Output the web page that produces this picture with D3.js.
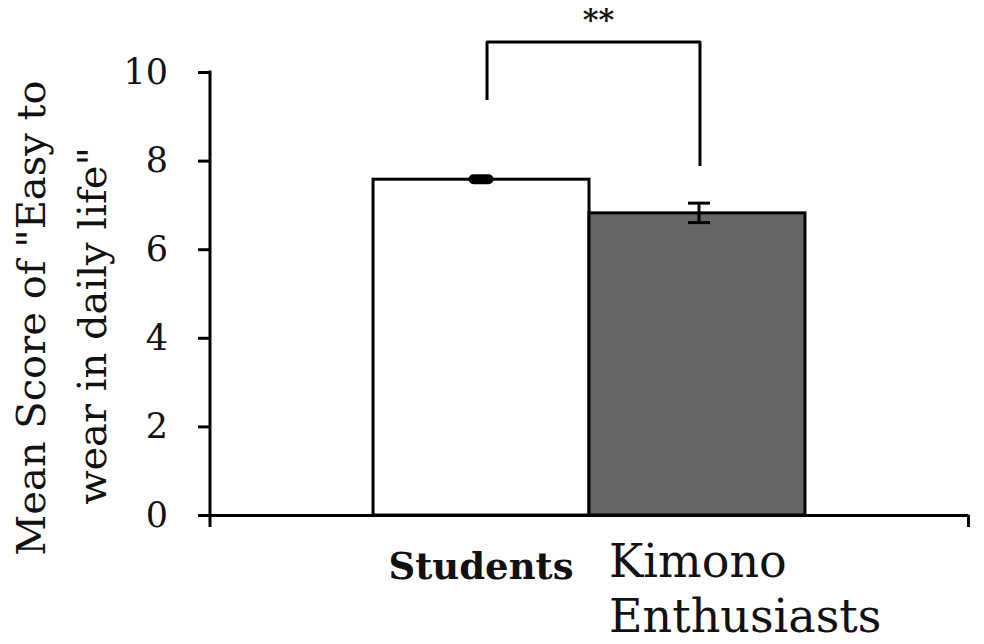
<!DOCTYPE html>
<html><head><meta charset="utf-8">
<script src="https://cdn.jsdelivr.net/npm/d3@7"></script>
<style>
html,body{margin:0;padding:0;background:#fff;}
svg{display:block;}
text{font-family:"DejaVu Serif","Liberation Serif",serif;fill:#111;}
</style></head>
<body>
<svg id="chart" width="984" height="644"></svg>
<script>
// ---- data ----
const groups = ["Students", "Kimono Enthusiasts"];
const means = [7.58, 6.82];
const errors = [0.03, 0.22];
const fills = ["#ffffff", "#666666"];
const yTicks = [0, 2, 4, 6, 8, 10];
const yTitleLines = ["Mean Score of \"Easy to", "wear in daily life\""];
const sigLabel = "**";
const bracketLevels = [9.37, 10.68, 7.88]; // left foot, top, right foot

(function () {
const svg = d3.select("#chart");
const pLeft = 210, pRight = 968, pTop = 72, pBottom = 515;

const y = d3.scaleLinear().domain([0, 10]).range([pBottom, pTop]);
const x = d3.scaleBand().domain(groups).range([pLeft, pRight]).paddingInner(0).paddingOuter(0.755);
const bw = x.bandwidth();

// bars
svg.selectAll("rect.bar").data(groups).enter().append("rect")
  .attr("class", "bar")
  .attr("x", d => x(d))
  .attr("y", (d, i) => y(means[i]))
  .attr("width", bw)
  .attr("height", (d, i) => y(0) - y(means[i]))
  .attr("fill", (d, i) => fills[i])
  .attr("stroke", "#000").attr("stroke-width", 3);

// error bars
const cap = 11;
groups.forEach((g, i) => {
  const cx = x(g) + bw / 2 + (i === 1 ? 2 : 0);
  const eg = svg.append("g").attr("stroke", "#000").attr("stroke-width", 3);
  eg.append("line").attr("x1", cx).attr("x2", cx).attr("y1", y(means[i] - errors[i])).attr("y2", y(means[i] + errors[i]));
  eg.append("line").attr("x1", cx - cap).attr("x2", cx + cap).attr("y1", y(means[i] + errors[i])).attr("y2", y(means[i] + errors[i]));
  eg.append("line").attr("x1", cx - cap).attr("x2", cx + cap).attr("y1", y(means[i] - errors[i])).attr("y2", y(means[i] - errors[i]));
  if (i === 0) {
    eg.append("rect").attr("x", cx - 11).attr("y", y(means[i]) - 3.5).attr("width", 22).attr("height", 7).attr("rx", 3.5).attr("fill", "#000");
  }
});

// y axis
const yAxis = d3.axisLeft(y).tickValues(yTicks).tickSize(12).tickPadding(30).tickFormat(d3.format("d"));
const yg = svg.append("g").attr("transform", `translate(${pLeft},0)`).call(yAxis);
yg.select(".domain").remove();
yg.selectAll(".tick line").attr("stroke", "#000").attr("stroke-width", 3);
yg.selectAll(".tick text").attr("font-size", 35).attr("font-family", "DejaVu Serif").attr("fill", "#111");
svg.append("line").attr("x1", pLeft).attr("x2", pLeft).attr("y1", y(10) - 1.5).attr("y2", y(0) + 12)
  .attr("stroke", "#000").attr("stroke-width", 3);

// x axis
const xLin = d3.scaleLinear().domain([0, 1]).range([pLeft, pRight]);
const xAxis = d3.axisBottom(xLin).tickValues([1]).tickSize(12).tickFormat("").tickSizeOuter(0);
const xg = svg.append("g").attr("transform", `translate(0,${pBottom})`).call(xAxis);
xg.select(".domain").attr("stroke", "#000").attr("stroke-width", 3);
xg.selectAll(".tick line").attr("stroke", "#000").attr("stroke-width", 3);

// x labels
svg.append("text").attr("x", x(groups[0]) + bw / 2).attr("y", 579)
  .attr("text-anchor", "middle").attr("font-size", 37).attr("font-weight", "bold").text(groups[0]);
const kParts = groups[1].split(" ");
svg.append("text").attr("x", x(groups[1]) + 20).attr("y", 577).attr("font-size", 46).text(kParts[0]);
svg.append("text").attr("x", x(groups[1]) + 20).attr("y", 632).attr("font-size", 46).text(kParts[1]);

// y title
const tg = svg.append("g").attr("transform", "translate(0,318) rotate(-90)");
tg.append("text").attr("x", 0).attr("y", 45).attr("text-anchor", "middle").attr("font-size", 40).text(yTitleLines[0]);
tg.append("text").attr("x", -8).attr("y", 106).attr("text-anchor", "middle").attr("font-size", 40).text(yTitleLines[1]);

// significance bracket
const bxL = x(groups[0]) + bw / 2 + 6, bxR = x(groups[1]) + bw / 2 + 3;
svg.append("path")
  .attr("d", `M${bxL},${y(bracketLevels[0])}V${y(bracketLevels[1])}H${bxR}V${y(bracketLevels[2])}`)
  .attr("fill", "none").attr("stroke", "#000").attr("stroke-width", 3).attr("stroke-linejoin", "round");
svg.append("text").attr("x", (bxL + bxR) / 2 + 5).attr("y", 30).attr("text-anchor", "middle")
  .attr("font-size", 30).attr("font-weight", "bold").attr("fill", "#444").text(sigLabel);
})();
</script>
</body></html>
